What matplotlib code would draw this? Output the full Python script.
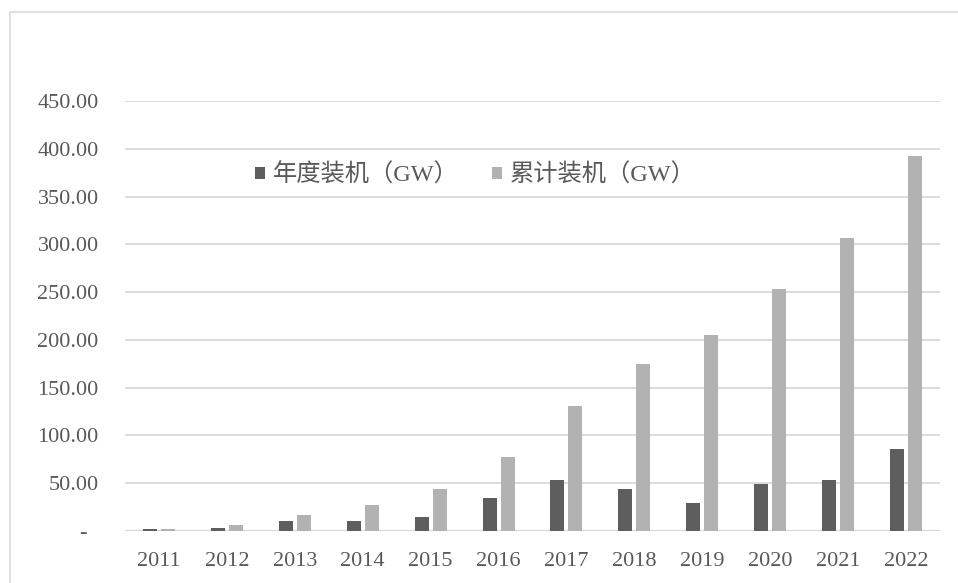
import matplotlib.pyplot as plt
import numpy as np
from matplotlib.patches import Rectangle

plt.rcParams['font.family'] = ['Liberation Serif', 'Noto Sans CJK SC']

# data
years = ["2011", "2012", "2013", "2014", "2015", "2016",
         "2017", "2018", "2019", "2020", "2021", "2022"]
annual = [2.0, 3.5, 10.9, 10.6, 15.0, 34.5, 53.6, 43.6, 29.8, 49.5, 53.6, 86.0]
cumulative = [2.5, 6.5, 17.0, 27.6, 43.5, 77.0, 131.0, 175.0, 204.7, 253.0, 306.5, 392.5]
yticks = [0, 50, 100, 150, 200, 250, 300, 350, 400, 450]
ytick_labels = ["-  ", "50.00", "100.00", "150.00", "200.00", "250.00",
                "300.00", "350.00", "400.00", "450.00"]

dark = "#5e5e5e"
light = "#b2b2b2"
grid = "#d9d9d9"
txt = "#595959"

fig = plt.figure(figsize=(9.58, 5.83), dpi=100)
fig.patches.append(Rectangle((10/958, -0.1), 1.2, 1 - 12/583 + 0.1,
                             transform=fig.transFigure, fill=False,
                             edgecolor=grid, linewidth=1.2))
ax = fig.add_axes([125/958, 1 - 531/583, 815/958, 430/583])

x = np.arange(len(years))
w = 0.205
ax.bar(x - w/2 - 0.03, annual, width=w, color=dark, label="年度装机（GW）", zorder=3)
ax.bar(x + w/2 + 0.03, cumulative, width=w, color=light, label="累计装机（GW）", zorder=3)

ax.set_xlim(-0.5, len(years) - 0.5)
ax.set_ylim(0, 450)
ax.set_yticks(yticks)
ax.set_yticklabels(ytick_labels)
ax.set_xticks(x)
ax.set_xticklabels(years)
ax.yaxis.grid(True, color=grid, linewidth=1.3, zorder=0)
ax.set_axisbelow(True)
for s in ax.spines.values():
    s.set_visible(False)
ax.axhline(0, color=grid, linewidth=1.6, zorder=1)
ax.tick_params(length=0, labelsize=16, colors=txt)
ax.tick_params(axis='y', pad=19)
ax.tick_params(axis='x', pad=15)

ax.legend(loc='center', bbox_to_anchor=(0.430, 0.828), ncol=2, frameon=False,
          fontsize=17.5, labelcolor=txt, handlelength=0.41, handleheight=0.41,
          handletextpad=0.33, columnspacing=1.35)

fig.savefig("out.png", dpi=100)
